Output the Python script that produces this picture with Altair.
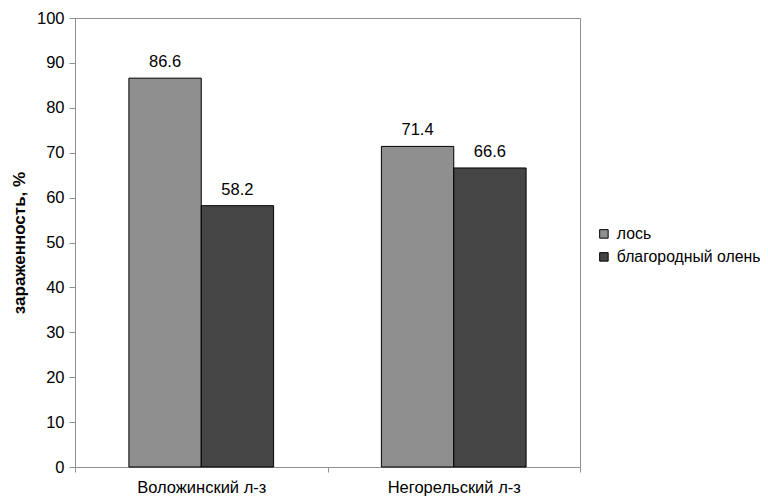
import altair as alt
import pandas as pd

sites = ["Воложинский л-з", "Негорельский л-з"]
species = ["лось", "благородный олень"]
los = [86.6, 71.4]
olen = [58.2, 66.6]
colors = ["#8f8f8f", "#454545"]
y_ticks = list(range(0, 101, 10))

rows = []
for i, s in enumerate(sites):
    rows.append({"site": s, "species": species[0], "value": los[i]})
    rows.append({"site": s, "species": species[1], "value": olen[i]})
df = pd.DataFrame(rows)

base = alt.Chart(df).encode(
    x=alt.X(
        "site:N",
        sort=sites,
        scale=alt.Scale(paddingInner=0, paddingOuter=0),
        axis=alt.Axis(
            title=None, labelAngle=0, tickBand="extent", labelPadding=7,
            labelFontSize=16.5, domainColor="#909090", tickColor="#909090",
            labelColor="black", tickSize=5,
        ),
    ),
    xOffset=alt.XOffset("species:N", sort=species,
                        scale=alt.Scale(paddingOuter=0.745, paddingInner=0)),
    y=alt.Y(
        "value:Q",
        scale=alt.Scale(domain=[0, 100]),
        axis=alt.Axis(
            title="зараженность, %", values=y_ticks, grid=False,
            tickSize=6, labelPadding=5, labelFontSize=16.5, labelColor="black",
            domainColor="#909090", tickColor="#909090",
            titleFontSize=17, titleFontWeight="bold", titlePadding=8,
            titleColor="black",
        ),
    ),
)

bars = base.mark_bar(stroke="black", strokeWidth=1).encode(
    color=alt.Color(
        "species:N", sort=species,
        scale=alt.Scale(domain=species, range=colors),
        legend=alt.Legend(
            title=None, orient="none", legendX=521, legendY=208,
            symbolType="square", symbolSize=72, symbolStrokeColor="black",
            symbolStrokeWidth=1, labelFontSize=15.8, labelColor="black",
            rowPadding=6, labelOffset=5, padding=0, labelLimit=300,
        ),
    )
)

labels = base.mark_text(baseline="bottom", dy=-8, fontSize=16.5, color="black").encode(
    text=alt.Text("value:Q", format=".1f")
)

chart = (bars + labels).properties(
    width=505, height=449,
    autosize=alt.AutoSizeParams(type="none"),
    padding={"left": 67, "top": 10, "right": 180, "bottom": 32},
).configure(font="Liberation Sans").configure_view(stroke="#909090", strokeWidth=1)

chart.save("out.html", embed_options={"renderer": "svg", "actions": False})
